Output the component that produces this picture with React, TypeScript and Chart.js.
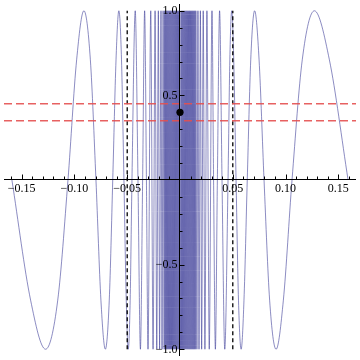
import React, { useEffect, useRef } from "react";
import { Chart, registerables } from "chart.js";
Chart.register(...registerables);

// Curve samples (left half, ascending x)
const leftX = [
  -0.1592, -0.1415, -0.1273, -0.1158, -0.1061, -0.0979, -0.091, -0.0849, -0.0796, -0.0749,
  -0.0707, -0.067, -0.0637, -0.0606, -0.0579, -0.0554, -0.0531, -0.0509, -0.049, -0.0472,
  -0.0455, -0.0424, -0.0398, -0.0375, -0.0354, -0.0335, -0.0318, -0.0303, -0.0277, -0.0255,
  -0.0236, -0.022, -0.0205, -0.0193, -0.018, -0.017, -0.016,
  -0.015, -0.0145, -0.014, -0.0135, -0.013, -0.0125, -0.012, -0.0115, -0.011, -0.0105,
  -0.01, -0.0095, -0.009, -0.0085, -0.008, -0.0075, -0.007, -0.0065, -0.006, -0.0055,
  -0.005, -0.0045, -0.004, -0.0035, -0.003, -0.0025, -0.002, -0.0015, -0.001, -0.0005,
];
const leftY = [
  0, -0.71, -1, -0.71, 0, 0.71, 1, 0.71, 0, -0.71,
  -1, -0.71, 0, 0.71, 1, 0.71, 0, -0.71, -1, -0.71,
  0, 1, 0, -1, 0, 1, 0, -1, 1, -1,
  1, -1, 1, -1, 1, -1, 1,
  -1, 1, -1, 1, -1, 1, -1, 1, -1, 1,
  -1, 1, -1, 1, -1, 1, -1, 1, -1, 1,
  -1, 1, -1, 1, -1, 1, -1, 1, -1, 1,
];
// Right half, ascending x
const rightX = [
  0.0005, 0.001, 0.0015, 0.002, 0.0025, 0.003, 0.0035, 0.004, 0.0045, 0.005,
  0.0055, 0.006, 0.0065, 0.007, 0.0075, 0.008, 0.0085, 0.009, 0.0095, 0.01,
  0.0105, 0.011, 0.0115, 0.012, 0.0125, 0.013, 0.0135, 0.014, 0.0145, 0.015,
  0.016, 0.017, 0.018, 0.0193, 0.0205,
  0.022, 0.0236, 0.0255, 0.0277, 0.0303, 0.0318, 0.0335, 0.0354, 0.0375, 0.0398,
  0.0424, 0.0455, 0.0472, 0.049, 0.0509, 0.0531, 0.0554, 0.0579, 0.0606, 0.0637,
  0.067, 0.0707, 0.0749, 0.0796, 0.0849, 0.091, 0.0979, 0.1061, 0.1158, 0.1273,
  0.1415, 0.1592,
];
const rightY = [
  -1, 1, -1, 1, -1, 1, -1, 1, -1, 1,
  -1, 1, -1, 1, -1, 1, -1, 1, -1, 1,
  -1, 1, -1, 1, -1, 1, -1, 1, -1, 1,
  -1, 1, -1, 1, -1,
  1, -1, 1, -1, 1, 0, -1, 0, 1, 0,
  -1, 0, 0.71, 1, 0.71, 0, -0.71, -1, -0.71, 0,
  0.71, 1, 0.71, 0, -0.71, -1, -0.71, 0, 0.71, 1,
  0.71, 0,
];

const xTickValues = [-0.15, -0.1, -0.05, 0.05, 0.1, 0.15];
const xTickLabels = ["\u22120.15", "\u22120.10", "\u22120.05", "0.05", "0.10", "0.15"];
const yTickValues = [-1, -0.5, 0.5, 1];
const yTickLabels = ["\u22121.0", "\u22120.5", "0.5", "1.0"];

const refLevels = [0.45, 0.35];
const boundX = [-0.05, 0.05];
const markerX = [0];
const markerY = [0.4];

const X_MIN = -0.1667;
const X_MAX = 0.1667;
const Y_MIN = -1.04;
const Y_MAX = 1.04;

const axesPlugin = {
  id: "centerAxes",
  afterDatasetsDraw(chart: any) {
    const ctx = chart.ctx;
    const xs = chart.scales.x;
    const ys = chart.scales.y;
    const area = chart.chartArea;
    const x0 = Math.round(xs.getPixelForValue(0)) - 0.5;
    const y0 = Math.round(ys.getPixelForValue(0)) - 0.5;
    ctx.save();
    ctx.strokeStyle = "#000";
    ctx.lineWidth = 1;
    ctx.beginPath();
    ctx.moveTo(area.left, y0);
    ctx.lineTo(area.right, y0);
    ctx.moveTo(x0, area.top);
    ctx.lineTo(x0, area.bottom);
    ctx.stroke();
    ctx.beginPath();
    for (let i = -16; i <= 16; i++) {
      if (i === 0) continue;
      const px = Math.round(xs.getPixelForValue(i / 100)) + 0.5;
      const len = i % 5 === 0 ? 5 : 3;
      ctx.moveTo(px, y0);
      ctx.lineTo(px, y0 - len);
    }
    for (let i = -10; i <= 10; i++) {
      if (i === 0) continue;
      const py = Math.round(ys.getPixelForValue(i / 10)) + 0.5;
      const len = i % 5 === 0 ? 5 : 3;
      ctx.moveTo(x0, py);
      ctx.lineTo(x0 + len, py);
    }
    ctx.stroke();
    ctx.fillStyle = "#000";
    ctx.font = "12px 'Liberation Serif', 'DejaVu Serif', serif";
    ctx.textAlign = "center";
    ctx.textBaseline = "top";
    xTickValues.forEach((v, i) => {
      ctx.fillText(xTickLabels[i], xs.getPixelForValue(v), y0 + 3);
    });
    ctx.textAlign = "right";
    ctx.textBaseline = "middle";
    yTickValues.forEach((v, i) => {
      ctx.fillText(yTickLabels[i], x0 - 2, ys.getPixelForValue(v) + 0.5);
    });
    ctx.restore();
  },
};

export default function App() {
  const ref = useRef<HTMLCanvasElement | null>(null);
  useEffect(() => {
    if (!ref.current) return;
    const curve = [
      ...leftX.map((x, i) => ({ x, y: leftY[i] })),
      ...rightX.map((x, i) => ({ x, y: rightY[i] })),
    ];
    const datasets: any[] = [];
    datasets.push({
      data: markerX.map((x, i) => ({ x, y: markerY[i] })),
      showLine: false,
      pointRadius: 3.6,
      pointBackgroundColor: "#000",
      pointBorderWidth: 0,
      order: 0,
    });
    refLevels.forEach((lv) => {
      datasets.push({
        data: [
          { x: X_MIN, y: lv },
          { x: X_MAX, y: lv },
        ],
        borderColor: "rgba(228,80,80,0.9)",
        borderWidth: 1.5,
        borderDash: [8, 4],
        pointRadius: 0,
        order: 1,
      });
    });
    boundX.forEach((bx) => {
      datasets.push({
        data: [
          { x: bx, y: -1 },
          { x: bx, y: 1 },
        ],
        borderColor: "#000",
        borderWidth: 1.3,
        borderDash: [4, 3],
        pointRadius: 0,
        order: 1,
      });
    });
    datasets.push({
      data: curve,
      borderColor: "rgb(62,62,152)",
      borderWidth: 0.6,
      pointRadius: 0,
      cubicInterpolationMode: "monotone",
      fill: false,
      order: 3,
    });
    const chart = new Chart(ref.current, {
      type: "line",
      data: { datasets },
      options: {
        animation: false,
        responsive: false,
        layout: { padding: 0 },
        events: [],
        plugins: { legend: { display: false }, tooltip: { enabled: false } },
        scales: {
          x: { type: "linear", min: X_MIN, max: X_MAX, display: false },
          y: { type: "linear", min: Y_MIN, max: Y_MAX, display: false },
        },
      },
      plugins: [axesPlugin],
    } as any);
    return () => chart.destroy();
  }, []);
  return (
    <div style={{ position: "fixed", left: 0, top: 0, width: 360, height: 360, background: "#fff" }}>
      <canvas ref={ref} width={360} height={360} style={{ display: "block" }} />
    </div>
  );
}
